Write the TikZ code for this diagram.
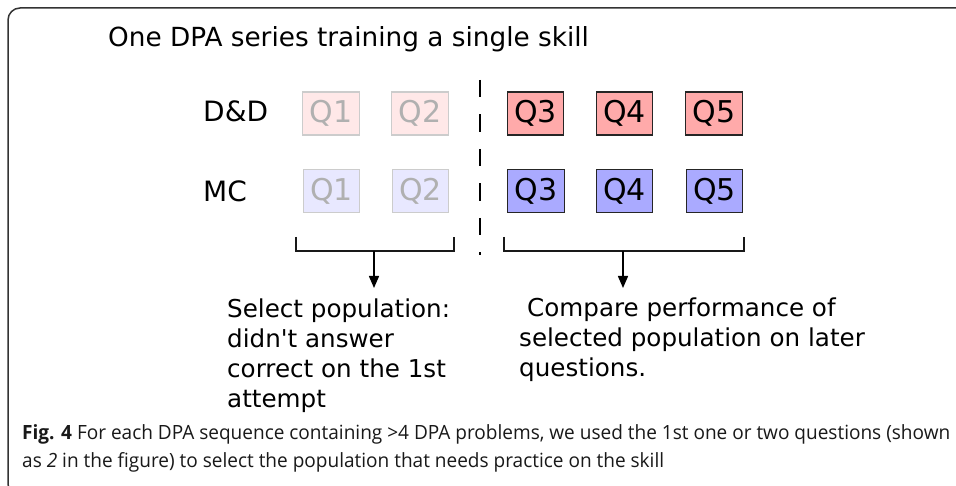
\documentclass[tikz,border=0pt]{standalone}
\usepackage{fontspec}
\usepackage{graphicx}
\usetikzlibrary{arrows.meta}
\newfontfamily\dv{DejaVu Sans}
\newfontfamily\capfont{Open Sans}
\newlength\capw
\newcommand\capone{\textbf{Fig. 4} For each DPA sequence containing >4 DPA problems, we used the 1st one or two questions (shown}
\definecolor{redA}{HTML}{FFAAAA}
\definecolor{redF}{HTML}{FFE8E8}
\definecolor{bluA}{HTML}{AAAAFF}
\definecolor{bluF}{HTML}{E8E8FF}
\definecolor{fadeTxt}{HTML}{B0B0B0}
\definecolor{fadeLine}{HTML}{CCCCCC}
\definecolor{frameC}{HTML}{333333}
\tikzset{
  qbox/.style={draw, minimum width=56.5pt, minimum height=43pt, inner sep=0pt,
    font=\dv\fontsize{30}{30}\selectfont, line width=1.1pt},
  qact/.style={qbox, draw=black!85, text=black},
  qfade/.style={qbox, draw=fadeLine, text=fadeTxt},
  rowlab/.style={anchor=base west, inner sep=0pt, font=\dv\fontsize{28}{28}\selectfont},
  bodytxt/.style={anchor=base west, inner sep=0pt, align=left,
    font=\dv\fontsize{24.6}{30}\selectfont},
  bracket/.style={line width=1.5pt, draw=black!90},
  downarrow/.style={line width=1.5pt, -{Triangle[length=12pt,width=10pt]}},
  captxt/.style={anchor=base west, inner sep=0pt, text=black!90, font=\capfont\fontsize{19.6}{27}\selectfont},
}
\begin{document}
\begin{tikzpicture}[x=1pt,y=-1pt]
\useasboundingbox (0,0) rectangle (956,486);
\clip (0,0) rectangle (956,486);
\fill[white] (0,0) rectangle (956,486);
% frame
\draw[rounded corners=12pt, line width=1.5pt, draw=frameC] (8,8) rectangle (985,496);
% title
\node[anchor=base west, inner sep=0pt, font=\dv\fontsize{26.3}{26.3}\selectfont] (title) at (108,47) {One DPA series training a single skill};
% row labels
\node[rowlab] (dd) at (203,122) {D\&D};
\node[rowlab] (mc) at (203,202) {MC};
% row 1
\node[qfade, fill=redF] (r1q1) at (331,113.5) {Q1};
\node[qfade, fill=redF] (r1q2) at (420,113.5) {Q2};
\node[qact, fill=redA] (r1q3) at (535.5,113.5) {Q3};
\node[qact, fill=redA] (r1q4) at (624.5,113.5) {Q4};
\node[qact, fill=redA] (r1q5) at (714,113.5) {Q5};
% row 2
\node[qfade, fill=bluF] (r2q1) at (331.5,191) {Q1};
\node[qfade, fill=bluF] (r2q2) at (420.5,191) {Q2};
\node[qact, fill=bluA] (r2q3) at (536,191) {Q3};
\node[qact, fill=bluA] (r2q4) at (624.5,191) {Q4};
\node[qact, fill=bluA] (r2q5) at (714.5,191) {Q5};
% dashed divider
\coordinate (dtop) at (480,80);
\coordinate (dbot) at (480,255);
\draw[line width=2.8pt, dash pattern=on 17.5pt off 17pt] (dtop) -- (dbot);
% brackets
\coordinate (lb1) at (296,237);
\coordinate (lb2) at (296,251);
\coordinate (lb3) at (454,251);
\coordinate (lb4) at (454,237);
\coordinate (lbm) at (374,251);
\coordinate (lbt) at (374,288);
\draw[bracket] (lb1) -- (lb2) -- (lb3) -- (lb4);
\draw[downarrow] (lbm) -- (lbt);
\coordinate (rb1) at (504,237);
\coordinate (rb2) at (504,251);
\coordinate (rb3) at (744,251);
\coordinate (rb4) at (744,237);
\coordinate (rbm) at (623,251);
\coordinate (rbt) at (623,288);
\draw[bracket] (rb1) -- (rb2) -- (rb3) -- (rb4);
\draw[downarrow] (rbm) -- (rbt);
% texts (base anchor = baseline of the last line)
\node[bodytxt] (seltxt) at (227,407) {Select population:\\didn't answer\\correct on the 1st\\attempt};
\node[bodytxt] (cmptxt) at (519,377) {\hspace*{8pt}Compare performance of\\selected population on later\\questions.};
% caption
\node[captxt] (cap1) at (22,439) {\settowidth{\capw}{\capone}\pgfmathsetmacro{\capsx}{928/\capw}\global\let\gcapsx\capsx\scalebox{\capsx}[1]{\capone}};
\node[captxt] (cap2) at (22,467) {\scalebox{\gcapsx}[1]{as \textit{2} in the figure) to select the population that needs practice on the skill}};
\end{tikzpicture}
\end{document}
